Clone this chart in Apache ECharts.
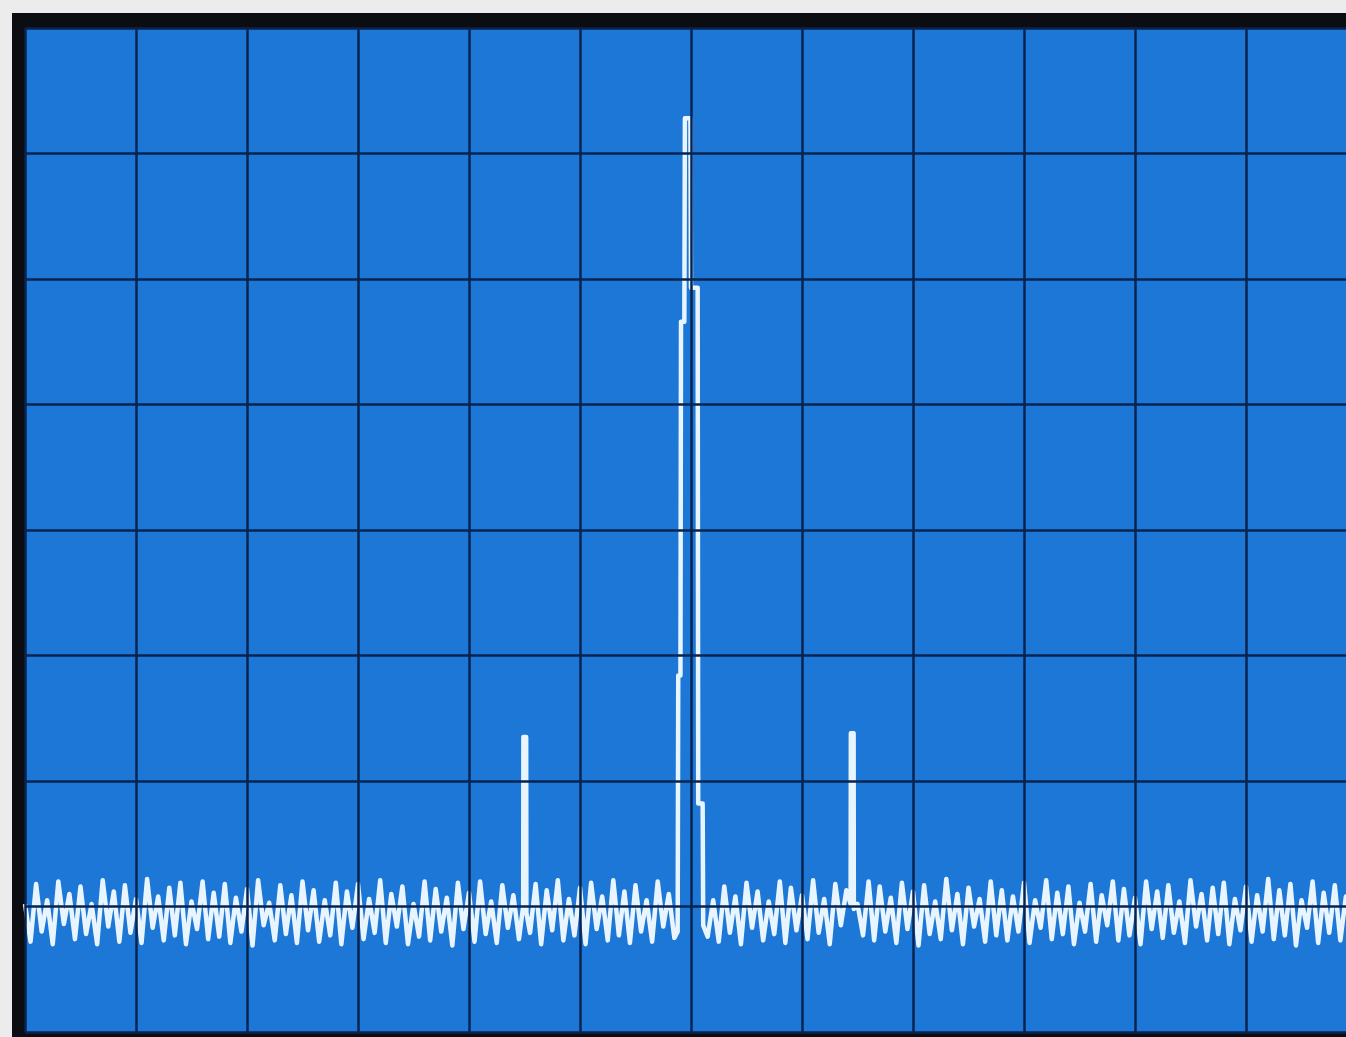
<!DOCTYPE html>
<html>
<head>
<meta charset="utf-8">
<title>Spectrum</title>
<script src="https://cdn.jsdelivr.net/npm/echarts@6/dist/echarts.min.js"></script>
<style>
  html, body { margin: 0; padding: 0; background: #ececec; overflow: hidden; width: 1346px; height: 1037px; }
  #frame { position: absolute; left: 12px; top: 13px; width: 1400px; height: 1040px; background: #0b0d13; }
  #chart { position: absolute; left: 0; top: 0; width: 1400px; height: 1037px; }
</style>
</head>
<body>
<div id="frame"></div>
<div id="chart"></div>
<script>
// screen divisions, x: 0..12, y: 0..8
var xDivs = [0, 12]
var yDivs = [0, 8]

// noise floor, one reading every 0.05 div
var noiseStep = 0.05
var noiseLevels = [
  1.02, 0.72, 1.18, 0.80, 1.05, 0.70, 1.20, 0.86, 1.10, 0.74, 1.16, 0.78, 1.02, 0.70, 1.21, 0.84, 1.12, 0.72, 1.17, 0.79,
  1.06, 0.71, 1.22, 0.83, 1.08, 0.73, 1.15, 0.77, 1.19, 0.70, 1.04, 0.82, 1.20, 0.74, 1.11, 0.76, 1.18, 0.71, 1.07, 0.80,
  1.14, 0.69, 1.21, 0.85, 1.03, 0.73, 1.17, 0.78, 1.09, 0.71, 1.20, 0.81, 1.13, 0.72, 1.05, 0.77, 1.19, 0.70, 1.12, 0.83,
  1.18, 0.74, 1.06, 0.79, 1.21, 0.71, 1.10, 0.84, 1.16, 0.70, 1.02, 0.76, 1.20, 0.73, 1.14, 0.80, 1.07, 0.69, 1.19, 0.82,
  1.11, 0.72, 1.20, 0.78, 1.04, 0.71, 1.17, 0.83, 1.09, 0.74, 1.00, 0.79, 1.18, 0.70, 1.13, 0.81, 1.21, 0.73, 1.06, 0.77,
  1.15, 0.70, 1.19, 0.82, 1.08, 0.73, 1.21, 0.77, 1.12, 0.71, 1.17, 0.80, 1.05, 0.72, 1.20, 0.84, 1.10, 0.75, 0.95, 0.78,
  0.90, 0.80, 0.85, 0.76, 1.05, 0.72, 1.16, 0.79, 1.08, 0.70, 1.19, 0.83, 1.12, 0.73, 1.04, 0.78, 1.20, 0.71, 1.15, 0.81,
  1.09, 0.74, 1.21, 0.79, 1.06, 0.70, 1.18, 0.85, 1.13, 0.72, 1.02, 0.77, 1.20, 0.73, 1.16, 0.80, 1.07, 0.71, 1.19, 0.82,
  1.12, 0.69, 1.17, 0.78, 1.04, 0.74, 1.22, 0.81, 1.10, 0.70, 1.15, 0.84, 1.06, 0.72, 1.20, 0.77, 1.13, 0.73, 1.08, 0.80,
  1.19, 0.71, 1.05, 0.83, 1.21, 0.74, 1.11, 0.78, 1.16, 0.70, 1.03, 0.80, 1.18, 0.72, 1.09, 0.85, 1.20, 0.73, 1.14, 0.77,
  1.07, 0.70, 1.20, 0.82, 1.12, 0.75, 1.17, 0.79, 1.04, 0.71, 1.21, 0.84, 1.10, 0.73, 1.15, 0.78, 1.19, 0.70, 1.06, 0.81,
  1.16, 0.72, 1.09, 0.80, 1.22, 0.74, 1.13, 0.77, 1.18, 0.69, 1.05, 0.83, 1.20, 0.71, 1.11, 0.79, 1.17, 0.73, 1.08, 0.82,
  1.14
]

// carrier (centre) trace, stepped
var carrierX = [5.88, 5.885, 5.905, 5.91, 5.94, 5.945, 5.995, 6.0, 6.06, 6.065, 6.105, 6.11]
var carrierY = [0.80, 2.84, 2.84, 5.66, 5.66, 7.28, 7.28, 5.93, 5.93, 1.82, 1.82, 0.85]

// the two sidebands
var lowerSideX = [4.488, 4.49, 4.515, 4.517]
var lowerSideY = [1.00, 2.35, 2.35, 0.95]
var upperSideX = [7.438, 7.44, 7.465, 7.467]
var upperSideY = [1.02, 2.38, 2.38, 0.98]

function buildTrace () {
  var strokes = [
    [carrierX, carrierY],
    [lowerSideX, lowerSideY],
    [upperSideX, upperSideY]
  ]
  var pts = []
  noiseLevels.forEach(function (v, i) {
    var x = +(i * noiseStep).toFixed(3)
    var inside = strokes.some(function (s) {
      return x >= s[0][0] && x <= s[0][s[0].length - 1]
    })
    if (!inside) pts.push([x, v])
  })
  strokes.forEach(function (s) {
    s[0].forEach(function (x, i) { pts.push([x, s[1][i]]) })
  })
  pts.sort(function (a, b) { return a[0] - b[0] })
  return pts
}

var gridColor = '#09234f'

var option = {
  animation: false,
  backgroundColor: 'transparent',
  grid: {
    left: 25, top: 28, width: 1332, height: 1004,
    show: true, backgroundColor: '#1c77d6', borderWidth: 0
  },
  xAxis: {
    type: 'value', min: xDivs[0], max: xDivs[1], interval: 1, z: 5,
    axisLine: { show: false }, axisTick: { show: false }, axisLabel: { show: false },
    splitLine: { show: true, lineStyle: { color: gridColor, width: 2.5 } }
  },
  yAxis: {
    type: 'value', min: yDivs[0], max: yDivs[1], interval: 1, z: 5,
    axisLine: { show: false }, axisTick: { show: false }, axisLabel: { show: false },
    splitLine: { show: true, lineStyle: { color: gridColor, width: 2.5 } }
  },
  series: [{
    type: 'line',
    data: buildTrace(),
    showSymbol: false,
    z: 2,
    lineStyle: { color: '#e8f5ff', width: 4.5, join: 'round' }
  }]
}

var chart = echarts.init(document.getElementById('chart'), null, { renderer: 'canvas' })
chart.setOption(option)
</script>
</body>
</html>
